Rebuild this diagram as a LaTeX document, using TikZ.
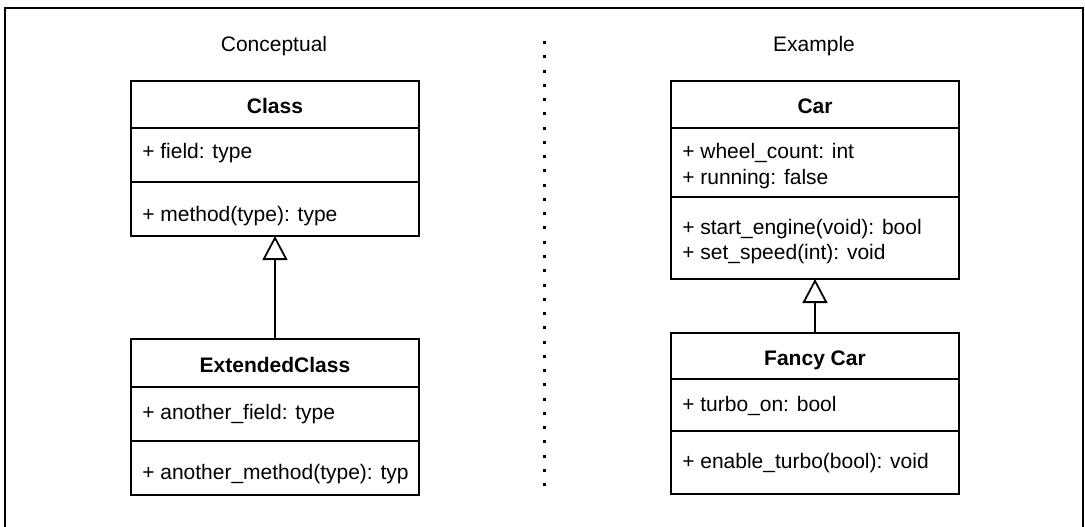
\documentclass[tikz,border=0pt]{standalone}
\usepackage{fontspec}
\setmainfont{Liberation Sans}
\usetikzlibrary{arrows.meta}
\begin{document}
\begin{tikzpicture}[x=0.75pt,y=-0.75pt,
  ln/.style={line width=1.33pt},
  comp/.style={draw, ln, minimum width=216pt, inner sep=0pt, outer sep=0pt, anchor=north west},
  txt/.style={inner sep=0pt, anchor=base west, font=\fontsize{15.75}{18}\selectfont},
  ttl/.style={inner sep=0pt, anchor=base, font=\fontsize{15.75}{18}\selectfont},
  hdr/.style={inner sep=0pt, anchor=base, font=\fontsize{15.75}{18}\selectfont\bfseries},
  inherit/.style={ln, -{Triangle[open, width=18.75pt, length=18pt]}}
]
\useasboundingbox (0,0) rectangle (1085,526);
\clip (0,0) rectangle (1085,526);
% outer frame (cut off at the bottom)
\draw[ln] (5,8) rectangle (1083,560);
% titles
\node[ttl] (t1) at (274,51) {Conceptual};
\node[ttl] (t2) at (814,51) {Example};
% dotted separator
\coordinate (d1) at (544,41);
\coordinate (d2) at (544,494);
\draw[line width=2.25pt, dash pattern=on 2.25pt off 8.45pt] (d1) -- (d2);

% Class
\node[comp, minimum height=35.25pt] (cH) at (131,81) {};
\node[comp, minimum height=40.5pt] (cF) at (131,128) {};
\node[comp, minimum height=40.5pt] (cM) at (131,182) {};
\node[hdr] (cHt) at (275,113) {Class};
\node[txt] (cFt) at (142,158) {+ field: type};
\node[txt] (cMt) at (142,221) {+ method(type): type};

% ExtendedClass
\node[comp, minimum height=36pt] (eH) at (131,339) {};
\node[comp, minimum height=40.5pt] (eF) at (131,387) {};
\node[comp, minimum height=40.5pt] (eM) at (131,441) {};
\node[hdr] (eHt) at (275,372) {ExtendedClass};
\node[txt] (eFt) at (142,419) {+ another\_field: type};
\node[txt] (eMt) at (142,479) {+ another\_method(type): typ};

\draw[inherit] (eH.north) -- (cM.south);

% Car
\node[comp, minimum height=35.25pt] (aH) at (671,81) {};
\node[comp, minimum height=51.75pt] (aF) at (671,128) {};
\node[comp, minimum height=61.5pt] (aM) at (671,197) {};
\node[hdr] (aHt) at (815,113) {Car};
\node[txt] (aF1) at (682,158) {+ wheel\_count: int};
\node[txt] (aF2) at (682,184) {+ running: false};
\node[txt] (aM1) at (682,234) {+ start\_engine(void): bool};
\node[txt] (aM2) at (682,259) {+ set\_speed(int): void};

% Fancy Car
\node[comp, minimum height=34.5pt] (fH) at (671,333) {};
\node[comp, minimum height=39pt] (fF) at (671,379) {};
\node[comp, minimum height=47.25pt] (fM) at (671,431) {};
\node[hdr] (fHt) at (815,365) {Fancy Car};
\node[txt] (fFt) at (682,411) {+ turbo\_on: bool};
\node[txt] (fMt) at (682,468) {+ enable\_turbo(bool): void};

\draw[inherit] (fH.north) -- (aM.south);
\end{tikzpicture}
\end{document}
